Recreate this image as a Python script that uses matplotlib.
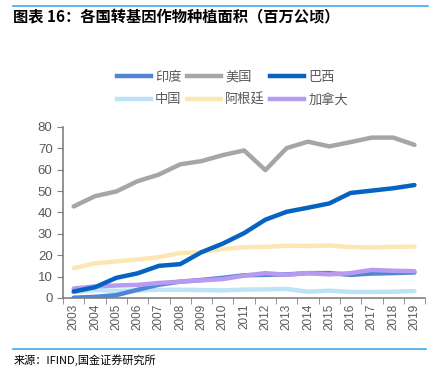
import numpy as np
import matplotlib.pyplot as plt
from matplotlib.lines import Line2D

plt.rcParams['font.family'] = ['Liberation Sans', 'Noto Sans CJK SC', 'DejaVu Sans']

years = [str(y) for y in range(2003, 2020)]
names = ["印度", "美国", "巴西", "中国", "阿根廷", "加拿大"]
india = [0.1, 0.5, 1.3, 3.8, 6.2, 7.6, 8.4, 9.4, 10.6, 10.8, 11.0, 11.6, 11.6, 10.8, 11.4, 11.6, 11.9]
usa = [42.8, 47.6, 49.8, 54.6, 57.7, 62.5, 64.0, 66.8, 69.0, 59.8, 70.1, 73.1, 70.9, 72.9, 75.0, 75.0, 71.6]
brazil = [3.0, 5.0, 9.4, 11.5, 15.0, 15.8, 21.4, 25.4, 30.3, 36.6, 40.3, 42.2, 44.2, 49.1, 50.2, 51.3, 52.8]
china = [2.8, 3.7, 3.3, 3.5, 3.8, 3.8, 3.7, 3.5, 3.9, 4.0, 4.2, 2.9, 3.4, 2.8, 2.8, 2.9, 3.2]
argentina = [13.9, 16.2, 17.1, 18.0, 19.1, 21.0, 21.3, 22.9, 23.7, 23.9, 24.4, 24.3, 24.5, 23.8, 23.6, 23.9, 24.0]
canada = [4.4, 5.4, 5.8, 6.1, 7.0, 7.6, 8.2, 8.8, 10.4, 11.6, 10.8, 11.6, 11.0, 11.6, 13.1, 12.7, 12.5]
series = [india, usa, brazil, china, argentina, canada]
colors = ["#4F86D4", "#A6A6A6", "#0563C1", "#BDE3F7", "#FCE6B4", "#B89AF0"]

fig = plt.figure(figsize=(4.47, 3.80), dpi=100)
ax = fig.add_axes([0.141, 0.216, 0.81, 0.45])

x = np.arange(len(years))
# draw order: pale lines first, then the rest
order = [3, 4, 0, 5, 2, 1]
for i in order:
    ax.plot(x, series[i], color=colors[i], lw=3.2, solid_capstyle='round', zorder=2 + order.index(i))

ax.set_xlim(-0.5, len(years) - 0.5)
ax.set_ylim(0, 80)
ax.set_yticks(range(0, 81, 10))
ax.set_xticks(x)
ax.set_xticklabels(years, rotation=90)
ax.set_xticks(np.arange(-0.5, len(years), 1), minor=True)
ax.tick_params(axis='x', which='major', length=0, pad=4, labelsize=8.5, colors='#595959')
ax.tick_params(axis='x', which='minor', length=4, color='#808080', direction='out')
ax.tick_params(axis='y', length=4, color='#808080', labelsize=9.5, labelcolor='#595959')
for s in ['top', 'right']:
    ax.spines[s].set_visible(False)
for s in ['left', 'bottom']:
    ax.spines[s].set_color('#808080')
    ax.spines[s].set_linewidth(1.2)

# legend fills column-wise, so reorder to get rows: 印度 美国 巴西 / 中国 阿根廷 加拿大
leg_order = [0, 3, 1, 4, 2, 5]
handles = [Line2D([0], [0], color=colors[i], lw=3.2) for i in leg_order]
labels = [names[i] for i in leg_order]
fig.legend(handles, labels, loc='center', bbox_to_anchor=(0.52, 0.767), ncol=3,
           frameon=False, handlelength=2.6, handletextpad=0.3, columnspacing=0.4,
           labelspacing=0.75, prop={'family': ['Noto Sans CJK SC'], 'size': 9.5},
           labelcolor='#595959')

# title and source
fig.add_artist(Line2D([0.03, 0.958], [0.984, 0.984], color='#3FA9E8', lw=1.2))
fig.text(0.03, 0.955, "图表 16：各国转基因作物种植面积（百万公顷）", fontsize=11, fontweight='bold',
         style='italic', family=['Noto Sans CJK SC'], va='center')
fig.add_artist(Line2D([0.03, 0.952], [0.082, 0.082], color='#3FA9E8', lw=1.2))
fig.text(0.03, 0.052, "来源：IFIND,国金证券研究所", fontsize=8,
         family=['Noto Sans CJK SC', 'DejaVu Sans'], va='center')

fig.savefig("out.png", dpi=100)
